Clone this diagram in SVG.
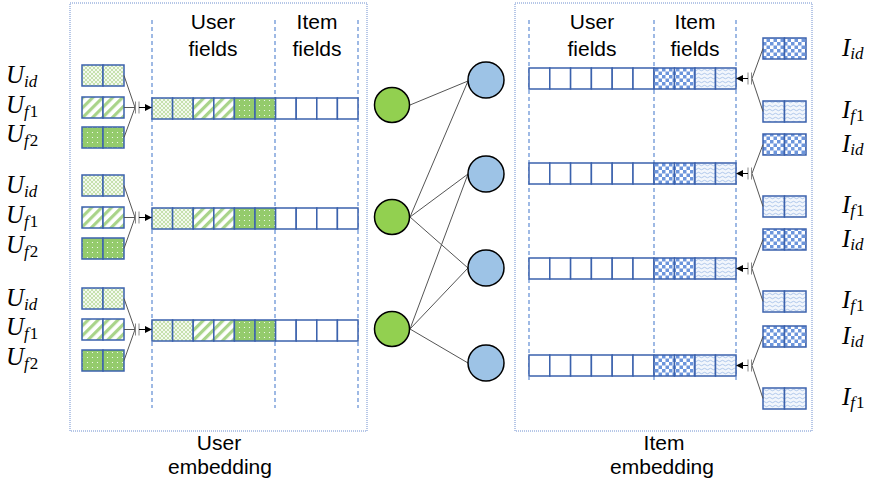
<svg xmlns="http://www.w3.org/2000/svg" width="872" height="485" viewBox="0 0 872 485">
<style>
.panel{fill:none;stroke:#6f8fcf;stroke-width:1;stroke-dasharray:1 1}
.sep{stroke:#7fa3dc;stroke-width:1.5;stroke-dasharray:4 3}
.cell{stroke:#3b62ad;stroke-width:1.5}
.hdr{font-family:"Liberation Sans",Arial,sans-serif;font-size:21px;fill:#000;text-anchor:middle}
.math{font-family:"Liberation Serif","Times New Roman",serif;font-style:italic;font-size:25px;fill:#000}
.sub{font-size:17px}
.up{font-style:normal}
.edge{stroke:#555;stroke-width:1;fill:none}
.tick{stroke:#888;stroke-width:1;fill:none}
.gc{fill:#92d050;stroke:#000;stroke-width:1.5}
.bc{fill:#9dc3e6;stroke:#000;stroke-width:1.5}
</style>
<defs>
<pattern id="pCross" width="4" height="4" patternUnits="userSpaceOnUse"><rect width="4" height="4" fill="#c6e1ae"/><path d="M0 0L4 4M4 0L0 4" stroke="#fff" stroke-width="0.8"/></pattern>
<pattern id="pStripe" width="7" height="7" patternUnits="userSpaceOnUse" patternTransform="rotate(45)"><rect width="7" height="7" fill="#fff"/><rect width="3.2" height="7" fill="#a9d48a"/></pattern>
<pattern id="pDot" width="5" height="5" patternUnits="userSpaceOnUse"><rect width="5" height="5" fill="#94cb6c"/><circle cx="2.5" cy="2.5" r="0.6" fill="#fff"/></pattern>
<pattern id="pCheck" width="7" height="7" patternUnits="userSpaceOnUse"><rect width="7" height="7" fill="#fff"/><rect width="3.5" height="3.5" fill="#6d96dc"/><rect x="3.5" y="3.5" width="3.5" height="3.5" fill="#6d96dc"/></pattern>
<pattern id="pWave" width="6" height="4" patternUnits="userSpaceOnUse"><rect width="6" height="4" fill="#f2f6fc"/><path d="M0 2Q1.5 0.5 3 2T6 2" stroke="#9dbbe6" fill="none" stroke-width="0.8"/></pattern>
<marker id="ah" markerWidth="7" markerHeight="7" refX="6" refY="3.5" orient="auto" markerUnits="userSpaceOnUse"><path d="M0 0L7 3.5L0 7Z" fill="#000"/></marker>
</defs>

<!-- panels -->
<g id="user-panel">
<rect class="panel" x="70" y="3" width="297" height="428"/>
<line class="sep" x1="152" y1="20" x2="152" y2="408"/>
<line class="sep" x1="275" y1="20" x2="275" y2="408"/>
<line class="sep" x1="358" y1="20" x2="358" y2="408"/>
<text class="hdr" x="213" y="29">User</text>
<text class="hdr" x="213" y="56">fields</text>
<text class="hdr" x="317" y="29">Item</text>
<text class="hdr" x="317" y="56">fields</text>
<text class="hdr" x="219" y="450">User</text>
<text class="hdr" x="220" y="474">embedding</text>
</g>
<g id="item-panel">
<rect class="panel" x="515" y="3" width="297" height="428"/>
<line class="sep" x1="529" y1="20" x2="529" y2="380"/>
<line class="sep" x1="654" y1="20" x2="654" y2="380"/>
<line class="sep" x1="736" y1="20" x2="736" y2="380"/>
<text class="hdr" x="592" y="29">User</text>
<text class="hdr" x="592" y="56">fields</text>
<text class="hdr" x="695" y="29">Item</text>
<text class="hdr" x="695" y="56">fields</text>
<text class="hdr" x="664" y="450">Item</text>
<text class="hdr" x="662" y="474">embedding</text>
</g>

<!-- left small field boxes and labels -->
<g id="user-fields-1">
<rect class="cell" x="82" y="65" width="21" height="21" fill="url(#pCross)"/><rect class="cell" x="103" y="65" width="21" height="21" fill="url(#pCross)"/>
<rect class="cell" x="82" y="97" width="21" height="21" fill="url(#pStripe)"/><rect class="cell" x="103" y="97" width="21" height="21" fill="url(#pStripe)"/>
<rect class="cell" x="82" y="127" width="21" height="21" fill="url(#pDot)"/><rect class="cell" x="103" y="127" width="21" height="21" fill="url(#pDot)"/>
<text class="math" x="6" y="83">U<tspan class="sub" dy="4">id</tspan></text>
<text class="math" x="6" y="113">U<tspan class="sub" dy="4">f<tspan class="up" dx="1">1</tspan></tspan></text>
<text class="math" x="6" y="142">U<tspan class="sub" dy="4">f<tspan class="up" dx="1">2</tspan></tspan></text>
</g>
<g id="user-fields-2">
<rect class="cell" x="82" y="175" width="21" height="21" fill="url(#pCross)"/><rect class="cell" x="103" y="175" width="21" height="21" fill="url(#pCross)"/>
<rect class="cell" x="82" y="207" width="21" height="21" fill="url(#pStripe)"/><rect class="cell" x="103" y="207" width="21" height="21" fill="url(#pStripe)"/>
<rect class="cell" x="82" y="238" width="21" height="21" fill="url(#pDot)"/><rect class="cell" x="103" y="238" width="21" height="21" fill="url(#pDot)"/>
<text class="math" x="6" y="193">U<tspan class="sub" dy="4">id</tspan></text>
<text class="math" x="6" y="223">U<tspan class="sub" dy="4">f<tspan class="up" dx="1">1</tspan></tspan></text>
<text class="math" x="6" y="253">U<tspan class="sub" dy="4">f<tspan class="up" dx="1">2</tspan></tspan></text>
</g>
<g id="user-fields-3">
<rect class="cell" x="82" y="288" width="21" height="21" fill="url(#pCross)"/><rect class="cell" x="103" y="288" width="21" height="21" fill="url(#pCross)"/>
<rect class="cell" x="82" y="319" width="21" height="21" fill="url(#pStripe)"/><rect class="cell" x="103" y="319" width="21" height="21" fill="url(#pStripe)"/>
<rect class="cell" x="82" y="350" width="21" height="21" fill="url(#pDot)"/><rect class="cell" x="103" y="350" width="21" height="21" fill="url(#pDot)"/>
<text class="math" x="6" y="306">U<tspan class="sub" dy="4">id</tspan></text>
<text class="math" x="6" y="335">U<tspan class="sub" dy="4">f<tspan class="up" dx="1">1</tspan></tspan></text>
<text class="math" x="6" y="365">U<tspan class="sub" dy="4">f<tspan class="up" dx="1">2</tspan></tspan></text>
</g>

<!-- left embedding bars -->
<g id="user-bar-1" transform="translate(152,98)">
<rect class="cell" x="0" y="0" width="20.6" height="21" fill="url(#pCross)"/><rect class="cell" x="20.6" y="0" width="20.6" height="21" fill="url(#pCross)"/>
<rect class="cell" x="41.2" y="0" width="20.6" height="21" fill="url(#pStripe)"/><rect class="cell" x="61.8" y="0" width="20.6" height="21" fill="url(#pStripe)"/>
<rect class="cell" x="82.4" y="0" width="20.6" height="21" fill="url(#pDot)"/><rect class="cell" x="103" y="0" width="20.6" height="21" fill="url(#pDot)"/>
<rect class="cell" x="123.6" y="0" width="20.6" height="21" fill="#fff"/><rect class="cell" x="144.2" y="0" width="20.6" height="21" fill="#fff"/>
<rect class="cell" x="164.8" y="0" width="20.6" height="21" fill="#fff"/><rect class="cell" x="185.4" y="0" width="20.6" height="21" fill="#fff"/>
</g>
<g id="user-bar-2" transform="translate(152,208)">
<rect class="cell" x="0" y="0" width="20.6" height="21" fill="url(#pCross)"/><rect class="cell" x="20.6" y="0" width="20.6" height="21" fill="url(#pCross)"/>
<rect class="cell" x="41.2" y="0" width="20.6" height="21" fill="url(#pStripe)"/><rect class="cell" x="61.8" y="0" width="20.6" height="21" fill="url(#pStripe)"/>
<rect class="cell" x="82.4" y="0" width="20.6" height="21" fill="url(#pDot)"/><rect class="cell" x="103" y="0" width="20.6" height="21" fill="url(#pDot)"/>
<rect class="cell" x="123.6" y="0" width="20.6" height="21" fill="#fff"/><rect class="cell" x="144.2" y="0" width="20.6" height="21" fill="#fff"/>
<rect class="cell" x="164.8" y="0" width="20.6" height="21" fill="#fff"/><rect class="cell" x="185.4" y="0" width="20.6" height="21" fill="#fff"/>
</g>
<g id="user-bar-3" transform="translate(152,320)">
<rect class="cell" x="0" y="0" width="20.6" height="21" fill="url(#pCross)"/><rect class="cell" x="20.6" y="0" width="20.6" height="21" fill="url(#pCross)"/>
<rect class="cell" x="41.2" y="0" width="20.6" height="21" fill="url(#pStripe)"/><rect class="cell" x="61.8" y="0" width="20.6" height="21" fill="url(#pStripe)"/>
<rect class="cell" x="82.4" y="0" width="20.6" height="21" fill="url(#pDot)"/><rect class="cell" x="103" y="0" width="20.6" height="21" fill="url(#pDot)"/>
<rect class="cell" x="123.6" y="0" width="20.6" height="21" fill="#fff"/><rect class="cell" x="144.2" y="0" width="20.6" height="21" fill="#fff"/>
<rect class="cell" x="164.8" y="0" width="20.6" height="21" fill="#fff"/><rect class="cell" x="185.4" y="0" width="20.6" height="21" fill="#fff"/>
</g>

<!-- right embedding bars -->
<g id="item-bar-1" transform="translate(529,68)">
<rect class="cell" x="0" y="0" width="20.8" height="21" fill="#fff"/><rect class="cell" x="20.8" y="0" width="20.8" height="21" fill="#fff"/>
<rect class="cell" x="41.6" y="0" width="20.8" height="21" fill="#fff"/><rect class="cell" x="62.4" y="0" width="20.8" height="21" fill="#fff"/>
<rect class="cell" x="83.2" y="0" width="20.8" height="21" fill="#fff"/><rect class="cell" x="104" y="0" width="21" height="21" fill="#fff"/>
<rect class="cell" x="125" y="0" width="20.5" height="21" fill="url(#pCheck)"/><rect class="cell" x="145.5" y="0" width="20.5" height="21" fill="url(#pCheck)"/>
<rect class="cell" x="166" y="0" width="20.5" height="21" fill="url(#pWave)"/><rect class="cell" x="186.5" y="0" width="20.5" height="21" fill="url(#pWave)"/>
</g>
<g id="item-bar-2" transform="translate(529,163)">
<rect class="cell" x="0" y="0" width="20.8" height="21" fill="#fff"/><rect class="cell" x="20.8" y="0" width="20.8" height="21" fill="#fff"/>
<rect class="cell" x="41.6" y="0" width="20.8" height="21" fill="#fff"/><rect class="cell" x="62.4" y="0" width="20.8" height="21" fill="#fff"/>
<rect class="cell" x="83.2" y="0" width="20.8" height="21" fill="#fff"/><rect class="cell" x="104" y="0" width="21" height="21" fill="#fff"/>
<rect class="cell" x="125" y="0" width="20.5" height="21" fill="url(#pCheck)"/><rect class="cell" x="145.5" y="0" width="20.5" height="21" fill="url(#pCheck)"/>
<rect class="cell" x="166" y="0" width="20.5" height="21" fill="url(#pWave)"/><rect class="cell" x="186.5" y="0" width="20.5" height="21" fill="url(#pWave)"/>
</g>
<g id="item-bar-3" transform="translate(529,258)">
<rect class="cell" x="0" y="0" width="20.8" height="21" fill="#fff"/><rect class="cell" x="20.8" y="0" width="20.8" height="21" fill="#fff"/>
<rect class="cell" x="41.6" y="0" width="20.8" height="21" fill="#fff"/><rect class="cell" x="62.4" y="0" width="20.8" height="21" fill="#fff"/>
<rect class="cell" x="83.2" y="0" width="20.8" height="21" fill="#fff"/><rect class="cell" x="104" y="0" width="21" height="21" fill="#fff"/>
<rect class="cell" x="125" y="0" width="20.5" height="21" fill="url(#pCheck)"/><rect class="cell" x="145.5" y="0" width="20.5" height="21" fill="url(#pCheck)"/>
<rect class="cell" x="166" y="0" width="20.5" height="21" fill="url(#pWave)"/><rect class="cell" x="186.5" y="0" width="20.5" height="21" fill="url(#pWave)"/>
</g>
<g id="item-bar-4" transform="translate(529,355)">
<rect class="cell" x="0" y="0" width="20.8" height="21" fill="#fff"/><rect class="cell" x="20.8" y="0" width="20.8" height="21" fill="#fff"/>
<rect class="cell" x="41.6" y="0" width="20.8" height="21" fill="#fff"/><rect class="cell" x="62.4" y="0" width="20.8" height="21" fill="#fff"/>
<rect class="cell" x="83.2" y="0" width="20.8" height="21" fill="#fff"/><rect class="cell" x="104" y="0" width="21" height="21" fill="#fff"/>
<rect class="cell" x="125" y="0" width="20.5" height="21" fill="url(#pCheck)"/><rect class="cell" x="145.5" y="0" width="20.5" height="21" fill="url(#pCheck)"/>
<rect class="cell" x="166" y="0" width="20.5" height="21" fill="url(#pWave)"/><rect class="cell" x="186.5" y="0" width="20.5" height="21" fill="url(#pWave)"/>
</g>

<!-- right small field boxes and labels -->
<g id="item-fields-1">
<rect class="cell" x="763" y="38" width="21.5" height="21" fill="url(#pCheck)"/><rect class="cell" x="784.5" y="38" width="21.5" height="21" fill="url(#pCheck)"/>
<rect class="cell" x="763" y="101" width="21.5" height="21" fill="url(#pWave)"/><rect class="cell" x="784.5" y="101" width="21.5" height="21" fill="url(#pWave)"/>
<text class="math" x="842" y="56">I<tspan class="sub" dy="3">id</tspan></text>
<text class="math" x="842" y="118">I<tspan class="sub" dy="3">f<tspan class="up" dx="1">1</tspan></tspan></text>
</g>
<g id="item-fields-2">
<rect class="cell" x="763" y="134" width="21.5" height="21" fill="url(#pCheck)"/><rect class="cell" x="784.5" y="134" width="21.5" height="21" fill="url(#pCheck)"/>
<rect class="cell" x="763" y="196" width="21.5" height="21" fill="url(#pWave)"/><rect class="cell" x="784.5" y="196" width="21.5" height="21" fill="url(#pWave)"/>
<text class="math" x="842" y="152">I<tspan class="sub" dy="3">id</tspan></text>
<text class="math" x="842" y="213">I<tspan class="sub" dy="3">f<tspan class="up" dx="1">1</tspan></tspan></text>
</g>
<g id="item-fields-3">
<rect class="cell" x="763" y="229" width="21.5" height="21" fill="url(#pCheck)"/><rect class="cell" x="784.5" y="229" width="21.5" height="21" fill="url(#pCheck)"/>
<rect class="cell" x="763" y="291" width="21.5" height="21" fill="url(#pWave)"/><rect class="cell" x="784.5" y="291" width="21.5" height="21" fill="url(#pWave)"/>
<text class="math" x="842" y="247">I<tspan class="sub" dy="3">id</tspan></text>
<text class="math" x="842" y="308">I<tspan class="sub" dy="3">f<tspan class="up" dx="1">1</tspan></tspan></text>
</g>
<g id="item-fields-4">
<rect class="cell" x="763" y="326" width="21.5" height="21" fill="url(#pCheck)"/><rect class="cell" x="784.5" y="326" width="21.5" height="21" fill="url(#pCheck)"/>
<rect class="cell" x="763" y="388" width="21.5" height="21" fill="url(#pWave)"/><rect class="cell" x="784.5" y="388" width="21.5" height="21" fill="url(#pWave)"/>
<text class="math" x="842" y="344">I<tspan class="sub" dy="3">id</tspan></text>
<text class="math" x="842" y="405">I<tspan class="sub" dy="3">f<tspan class="up" dx="1">1</tspan></tspan></text>
</g>

<!-- connectors -->
<g id="connectors">
<path class="edge" d="M124 75.5L135 107.5M124 107.5L135 107.5M124 137.5L135 107.5"/>
<path class="tick" d="M135.5 101.5V113.5M139 101.5V113.5"/>
<line x1="139" y1="107.5" x2="151" y2="107.5" stroke="#000" stroke-width="1" marker-end="url(#ah)"/>
<path class="edge" d="M124 185.5L135 217.5M124 217.5L135 217.5M124 248.5L135 217.5"/>
<path class="tick" d="M135.5 211.5V223.5M139 211.5V223.5"/>
<line x1="139" y1="217.5" x2="151" y2="217.5" stroke="#000" stroke-width="1" marker-end="url(#ah)"/>
<path class="edge" d="M124 298.5L135 329.5M124 329.5L135 329.5M124 360.5L135 329.5"/>
<path class="tick" d="M135.5 323.5V335.5M139 323.5V335.5"/>
<line x1="139" y1="329.5" x2="151" y2="329.5" stroke="#000" stroke-width="1" marker-end="url(#ah)"/>
<path class="edge" d="M763 48.5L752 78.5L763 111.5"/>
<path class="tick" d="M751.5 72.5V84.5M748 72.5V84.5"/>
<line x1="748" y1="78.5" x2="737" y2="78.5" stroke="#000" stroke-width="1" marker-end="url(#ah)"/>
<path class="edge" d="M763 144.5L752 173.5L763 206.5"/>
<path class="tick" d="M751.5 167.5V179.5M748 167.5V179.5"/>
<line x1="748" y1="173.5" x2="737" y2="173.5" stroke="#000" stroke-width="1" marker-end="url(#ah)"/>
<path class="edge" d="M763 239.5L752 268.5L763 301.5"/>
<path class="tick" d="M751.5 262.5V274.5M748 262.5V274.5"/>
<line x1="748" y1="268.5" x2="737" y2="268.5" stroke="#000" stroke-width="1" marker-end="url(#ah)"/>
<path class="edge" d="M763 336.5L752 365.5L763 398.5"/>
<path class="tick" d="M751.5 359.5V371.5M748 359.5V371.5"/>
<line x1="748" y1="365.5" x2="737" y2="365.5" stroke="#000" stroke-width="1" marker-end="url(#ah)"/>
<path class="edge" d="M410 105L468 81M410 217L468 81M410 217L468 174M410 217L468 268M410 329L468 174M410 329L468 268M410 329L468 363"/>
</g>

<!-- graph nodes -->
<g id="user-node-1"><circle class="gc" cx="392" cy="105" r="17.5"/></g>
<g id="user-node-2"><circle class="gc" cx="392" cy="217" r="17.5"/></g>
<g id="user-node-3"><circle class="gc" cx="392" cy="329" r="17.5"/></g>
<g id="item-node-1"><circle class="bc" cx="486" cy="80" r="18"/></g>
<g id="item-node-2"><circle class="bc" cx="486" cy="174" r="18"/></g>
<g id="item-node-3"><circle class="bc" cx="486" cy="268" r="18"/></g>
<g id="item-node-4"><circle class="bc" cx="486" cy="363" r="18"/></g>
</svg>
